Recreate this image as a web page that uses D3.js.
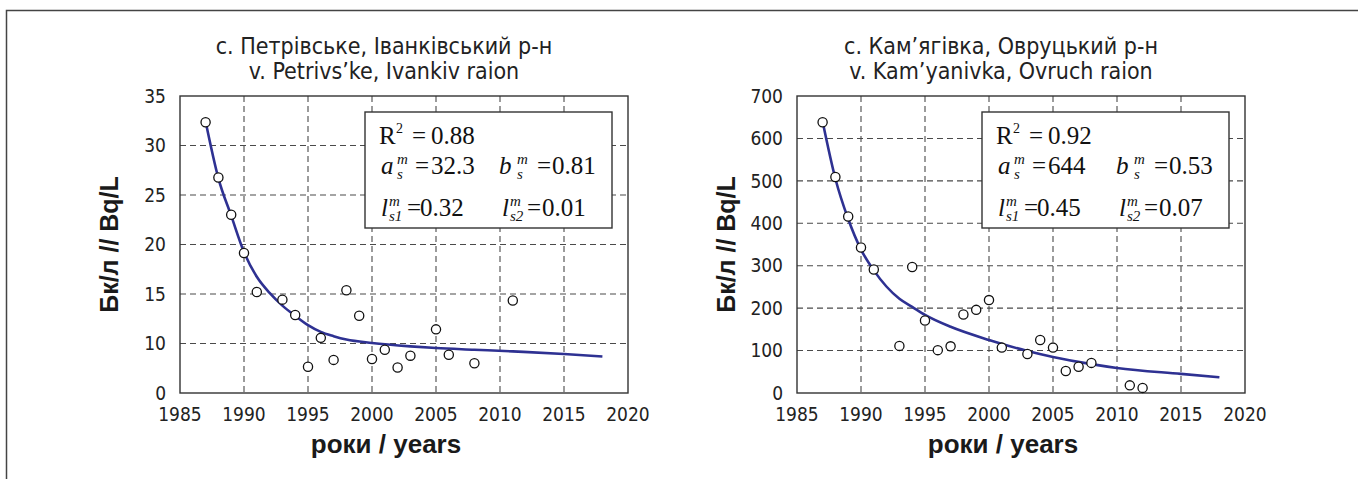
<!DOCTYPE html>
<html>
<head>
<meta charset="utf-8">
<script src="https://cdn.jsdelivr.net/npm/d3@7"></script>
<style>
    html, body { margin: 0; padding: 0; background: #fff; }
    svg { display: block; }
</style>
</head>
<body>
<div id="chart"></div>
<script>
// Data
const yearsA = [1987, 1988, 1989, 1990, 1991, 1993, 1994, 1995, 1996, 1997, 1998, 1999, 2000, 2001, 2002, 2003, 2005, 2006, 2008, 2011];
const valsA = [31.9, 25.4, 21.0, 16.5, 11.9, 11.0, 9.2, 3.1, 6.5, 3.9, 12.1, 9.1, 4.0, 5.1, 3.0, 4.4, 7.5, 4.5, 3.5, 10.9];
const fitYearsA = [1987, 1988, 1989, 1990, 1991, 1992, 1993, 1994, 1995, 1996, 1997, 1998, 2000, 2003, 2005, 2008, 2011, 2015, 2018];
const fitValsA = [32.0, 25.3, 20.9, 16.6, 13.7, 11.8, 10.3, 9.1, 8.0, 7.2, 6.7, 6.3, 5.9, 5.5, 5.3, 5.1, 4.9, 4.6, 4.3];

const yearsB = [1987, 1988, 1989, 1990, 1991, 1993, 1994, 1995, 1996, 1997, 1998, 1999, 2000, 2001, 2003, 2004, 2005, 2006, 2007, 2008, 2011, 2012];
const valsB = [638, 509, 416, 343, 291, 111, 297, 171, 101, 110, 185, 196, 219, 107, 92, 125, 107, 52, 62, 71, 18, 12];
const fitYearsB = [1987, 1988, 1989, 1990, 1991, 1993, 1994, 1995, 1997, 2000, 2003, 2005, 2008, 2010, 2015, 2018];
const fitValsB = [640, 505, 410, 338, 289, 222, 203, 184, 156, 125, 99, 85, 68, 59, 45, 37];

const xTicks = [1985, 1990, 1995, 2000, 2005, 2010, 2015, 2020];
const yLabelsA = ['0', '10', '15', '20', '25', '30', '35'];
const yLabelsB = ['0', '100', '200', '300', '400', '500', '600', '700'];

const titlesA = ['с. Петрівське, Іванківський р-н', 'v. Petrivs’ke, Ivankiv raion'];
const titlesB = ['с. Кам’ягівка, Овруцький р-н', 'v. Kam’yanivka, Ovruch raion'];

const statsA = { r2: '0.88', a: '32.3', b: '0.81', l1: '0.32', l2: '0.01' };
const statsB = { r2: '0.92', a: '644', b: '0.53', l1: '0.45', l2: '0.07' };

const yLabel = 'Бк/л // Bq/L';
const xLabel = 'роки / years';

const W = 1358, H = 479;
const sans = '"Liberation Sans", Arial, sans-serif';
const narrow = '"Liberation Sans Narrow", "DejaVu Sans Condensed", sans-serif';
const serif = '"Liberation Serif", "Times New Roman", serif';

const svg = d3.select('#chart').append('svg')
    .attr('width', W)
    .attr('height', H)
    .attr('viewBox', `0 0 ${W} ${H}`);

// outer frame (left and top only)
svg.append('path')
    .attr('d', `M6.5,${H} V10.5 H${W}`)
    .attr('fill', 'none')
    .attr('stroke', '#444')
    .attr('stroke-width', 1.5);

function drawPanel(cfg) {
    const { left, right, top, bottom } = cfg;
    const g = svg.append('g');

    const x = d3.scaleLinear().domain([1985, 2020]).range([left, right]);
    const y = d3.scaleLinear().domain(cfg.yDomain).range([bottom, top]);

    // ticks spread evenly over the y axis, labels as printed
    const yTicks = cfg.yLabels.map((t, i) =>
        cfg.yDomain[0] + (cfg.yDomain[1] - cfg.yDomain[0]) * i / (cfg.yLabels.length - 1));

    // titles
    g.selectAll('.title')
        .data(cfg.titles)
        .enter().append('text')
        .attr('x', (left + right) / 2 - 20)
        .attr('y', (d, i) => 54 + i * 25)
        .attr('text-anchor', 'middle')
        .attr('font-family', narrow)
        .attr('font-size', '23px')
        .attr('fill', '#222')
        .text(d => d);

    // dashed grid
    g.selectAll('.vgrid')
        .data(xTicks.slice(1, -1))
        .enter().append('line')
        .attr('x1', d => x(d)).attr('x2', d => x(d))
        .attr('y1', top).attr('y2', bottom)
        .attr('stroke', '#4a4a4a')
        .attr('stroke-width', 1.1)
        .attr('stroke-dasharray', '6,4');
    g.selectAll('.hgrid')
        .data(yTicks.slice(1, -1))
        .enter().append('line')
        .attr('x1', left).attr('x2', right)
        .attr('y1', d => y(d)).attr('y2', d => y(d))
        .attr('stroke', '#4a4a4a')
        .attr('stroke-width', 1.1)
        .attr('stroke-dasharray', '6,4');

    // plot frame
    g.append('rect')
        .attr('x', left).attr('y', top)
        .attr('width', right - left).attr('height', bottom - top)
        .attr('fill', 'none')
        .attr('stroke', '#333')
        .attr('stroke-width', 1.4);

    // tick labels
    g.selectAll('.xtick')
        .data(xTicks)
        .enter().append('text')
        .attr('x', d => x(d))
        .attr('y', bottom + 28)
        .attr('text-anchor', 'middle')
        .attr('font-family', narrow)
        .attr('font-size', '19px')
        .attr('fill', '#222')
        .text(d => d);
    g.selectAll('.ytick')
        .data(yTicks)
        .enter().append('text')
        .attr('x', left - 14)
        .attr('y', d => y(d))
        .attr('dy', '0.35em')
        .attr('text-anchor', 'end')
        .attr('font-family', narrow)
        .attr('font-size', '19px')
        .attr('fill', '#222')
        .text((d, i) => cfg.yLabels[i]);

    // axis titles
    g.append('text')
        .attr('transform', `translate(${left - 62},${(top + bottom) / 2}) rotate(-90)`)
        .attr('text-anchor', 'middle')
        .attr('font-family', sans)
        .attr('font-weight', 'bold')
        .attr('font-size', '25px')
        .attr('fill', '#1a1a1a')
        .text(yLabel);
    g.append('text')
        .attr('x', (left + right) / 2 - 18)
        .attr('y', bottom + 60)
        .attr('text-anchor', 'middle')
        .attr('font-family', sans)
        .attr('font-weight', 'bold')
        .attr('font-size', '26px')
        .attr('fill', '#1a1a1a')
        .text(xLabel);

    // stats box
    const bx = cfg.boxLeft, by = top + 16;
    g.append('rect')
        .attr('x', bx).attr('y', by)
        .attr('width', 247).attr('height', 116)
        .attr('fill', '#fff')
        .attr('stroke', '#333')
        .attr('stroke-width', 1.4);

    const s = cfg.stats;
    // each line is one text, pieces placed as tspans: [dx, dy, string, size, italic]
    const line = (pieces) => {
        const t = g.append('text')
            .attr('font-family', serif)
            .attr('fill', '#111');
        pieces.forEach(p => {
            t.append('tspan')
                .attr('x', bx + p[0])
                .attr('y', by + p[1])
                .attr('font-size', p[3] + 'px')
                .attr('font-style', p[4] ? 'italic' : 'normal')
                .text(p[2]);
        });
    };
    // symbol with stacked superscript and subscript
    const sym = (tx, ty, base, sub, supX) => [
        [tx, ty, base, 25, true],
        [tx + supX, ty - 10, 'm', 15, true],
        [tx + supX, ty + 5, sub, 15, true]
    ];

    line([
        [14, 32, 'R', 25, false],
        [31, 21, '2', 14, false],
        [47, 32, '=', 25, false],
        [66, 32, s.r2, 25, false]
    ]);
    line([
        ...sym(16, 62, 'a', 's', 16),
        [50, 62, '=', 25, false],
        [66, 62, s.a, 25, false],
        ...sym(134, 62, 'b', 's', 18),
        [172, 62, '=', 25, false],
        [187, 62, s.b, 25, false]
    ]);
    line([
        ...sym(16, 104, 'l', 's1', 8),
        [42, 104, '=', 25, false],
        [55, 104, s.l1, 25, false],
        ...sym(137, 104, 'l', 's2', 8),
        [162, 104, '=', 25, false],
        [177, 104, s.l2, 25, false]
    ]);

    // fitted curve
    const fit = cfg.fitYears.map((d, i) => [d, cfg.fitVals[i]]);
    g.append('path')
        .datum(fit)
        .attr('fill', 'none')
        .attr('stroke', '#2e3192')
        .attr('stroke-width', 2.6)
        .attr('d', d3.line()
            .x(d => x(d[0]))
            .y(d => y(d[1]))
            .curve(d3.curveMonotoneX));

    // observed points
    g.selectAll('.pt')
        .data(cfg.years.map((d, i) => [d, cfg.vals[i]]))
        .enter().append('circle')
        .attr('cx', d => x(d[0]))
        .attr('cy', d => y(d[1]))
        .attr('r', 4.6)
        .attr('fill', '#fff')
        .attr('stroke', '#111')
        .attr('stroke-width', 1.3);
}

drawPanel({
    left: 180, right: 628, top: 96, bottom: 393,
    yDomain: [0, 35], yLabels: yLabelsA,
    titles: titlesA, stats: statsA, boxLeft: 365,
    years: yearsA, vals: valsA, fitYears: fitYearsA, fitVals: fitValsA
});
drawPanel({
    left: 797, right: 1245, top: 96, bottom: 393,
    yDomain: [0, 700], yLabels: yLabelsB,
    titles: titlesB, stats: statsB, boxLeft: 982,
    years: yearsB, vals: valsB, fitYears: fitYearsB, fitVals: fitValsB
});
</script>
</body>
</html>
